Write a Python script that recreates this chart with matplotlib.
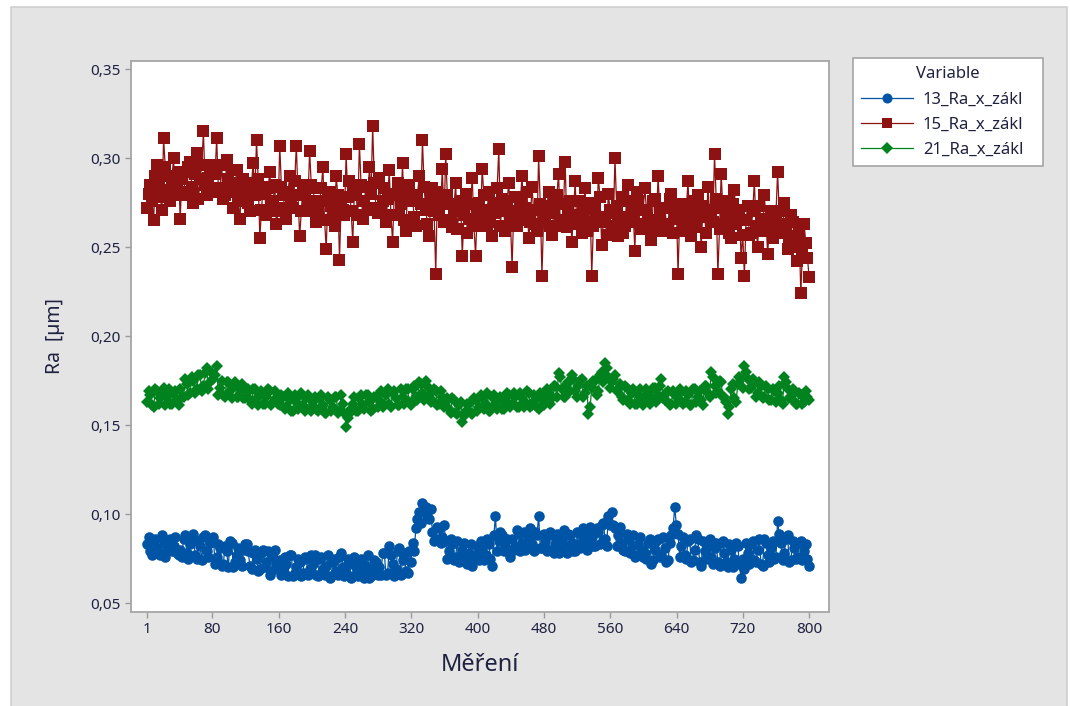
import numpy as np
import matplotlib
matplotlib.use("Agg")
import matplotlib.pyplot as plt
from matplotlib.patches import Rectangle
from matplotlib.ticker import FuncFormatter

plt.rcParams['font.family'] = ['Noto Sans', 'DejaVu Sans']

ra13 = [
    83, 87, 79, 77, 85, 86, 81, 78, 77, 88, 84, 76, 80, 85, 86, 79, 82, 87, 78, 77,
    80, 76, 86, 88, 78, 75, 83, 86, 89, 77, 75, 85, 82, 74, 87, 88, 79, 76, 84, 86,
    87, 72, 76, 83, 81, 71, 72, 82, 79, 70, 85, 84, 70, 73, 77, 81, 74, 71, 80, 83,
    83, 79, 71, 69, 78, 80, 75, 68, 69, 78, 80, 70, 73, 79, 66, 68, 76, 80, 72, 69,
    74, 66, 68, 76, 72, 65, 77, 77, 65, 67, 70, 75, 73, 65, 67, 76, 75, 66, 69, 77,
    72, 77, 66, 65, 75, 76, 69, 66, 71, 77, 64, 65, 73, 75, 68, 66, 76, 78, 70, 65,
    67, 75, 72, 64, 65, 76, 70, 65, 74, 75, 68, 64, 71, 77, 64, 65, 69, 74, 73, 66,
    70, 66, 78, 78, 66, 67, 82, 77, 72, 65, 69, 79, 81, 66, 74, 78, 68, 67, 79, 73,
    84, 79, 92, 97, 101, 95, 106, 102, 104, 99, 97, 103, 90, 85, 86, 93, 92, 84, 87, 94,
    85, 75, 79, 86, 83, 74, 76, 85, 73, 77, 80, 84, 75, 72, 78, 83, 71, 74, 77, 82,
    74, 85, 80, 74, 77, 86, 83, 75, 71, 88, 99, 79, 85, 90, 88, 79, 82, 86, 79, 76,
    86, 80, 82, 91, 89, 79, 84, 90, 80, 81, 87, 92, 83, 79, 90, 88, 99, 81, 81, 89,
    85, 79, 80, 90, 88, 78, 83, 89, 78, 80, 86, 91, 82, 78, 89, 88, 84, 79, 79, 90,
    83, 81, 88, 92, 85, 80, 91, 93, 87, 82, 82, 92, 90, 83, 94, 95, 86, 82, 99, 94,
    101, 94, 92, 82, 88, 93, 84, 80, 79, 89, 86, 78, 82, 88, 76, 77, 83, 87, 80, 76,
    78, 75, 84, 86, 72, 74, 80, 85, 86, 76, 77, 87, 81, 73, 74, 84, 88, 92, 104, 94,
    89, 76, 82, 87, 77, 75, 85, 86, 73, 74, 80, 88, 86, 73, 71, 85, 79, 75, 83, 86,
    76, 72, 81, 84, 73, 71, 84, 85, 78, 73, 70, 83, 80, 70, 75, 84, 82, 72, 64, 75,
    69, 84, 78, 72, 83, 85, 74, 73, 80, 86, 72, 71, 86, 84, 77, 73, 81, 85, 75, 76,
    96, 89, 84, 74, 78, 86, 88, 73, 74, 85, 81, 75, 76, 84, 85, 74, 79, 83, 75, 71,
]
ra15 = [
    272, 280, 285, 276, 265, 290, 296, 284, 278, 271, 311, 295, 290, 282, 276, 288, 300, 279, 283, 292,
    266, 288, 292, 279, 281, 295, 298, 284, 275, 291, 303, 277, 288, 296, 315, 285, 279, 289, 294, 281,
    296, 291, 311, 283, 282, 296, 277, 279, 299, 288, 286, 293, 272, 281, 293, 276, 266, 284, 288, 279,
    281, 275, 270, 286, 297, 279, 310, 288, 255, 271, 284, 280, 268, 283, 292, 274, 276, 285, 263, 270,
    307, 284, 279, 272, 266, 281, 290, 276, 272, 287, 307, 279, 256, 270, 285, 282, 270, 276, 304, 285,
    283, 276, 264, 270, 276, 283, 295, 265, 249, 278, 281, 273, 268, 262, 290, 279, 243, 274, 271, 268,
    302, 278, 287, 270, 253, 282, 279, 268, 308, 285, 266, 276, 284, 271, 295, 280, 318, 286, 272, 269,
    289, 270, 276, 283, 264, 277, 293, 268, 253, 279, 280, 286, 268, 274, 297, 265, 259, 281, 285, 276,
    278, 267, 262, 279, 290, 274, 310, 284, 271, 263, 256, 277, 283, 270, 235, 281, 268, 275, 294, 264,
    302, 279, 274, 265, 261, 272, 286, 260, 270, 276, 245, 268, 280, 258, 266, 274, 289, 262, 245, 271,
    275, 266, 294, 279, 262, 271, 281, 264, 256, 275, 269, 283, 305, 262, 277, 270, 259, 276, 286, 265,
    239, 270, 278, 262, 265, 276, 290, 268, 272, 281, 255, 264, 284, 271, 263, 259, 301, 274, 234, 266,
    268, 273, 281, 262, 257, 269, 274, 279, 291, 265, 262, 274, 298, 261, 270, 276, 253, 268, 287, 263,
    276, 268, 258, 270, 283, 259, 264, 275, 234, 262, 272, 266, 289, 278, 251, 264, 267, 257, 280, 271,
    269, 262, 300, 273, 256, 267, 278, 258, 262, 276, 285, 264, 271, 269, 248, 281, 276, 263, 260, 271,
    283, 271, 265, 260, 254, 276, 277, 265, 290, 269, 259, 272, 272, 263, 261, 277, 280, 258, 268, 274,
    235, 266, 274, 259, 262, 271, 287, 264, 256, 276, 270, 261, 279, 268, 250, 273, 267, 258, 284, 270,
    271, 264, 302, 277, 235, 260, 291, 272, 263, 268, 276, 258, 255, 274, 282, 263, 268, 271, 244, 257,
    234, 265, 273, 257, 258, 270, 287, 262, 250, 273, 266, 259, 279, 266, 246, 261, 270, 255, 259, 268,
    292, 270, 262, 258, 275, 263, 249, 255, 268, 264, 256, 250, 242, 259, 224, 248, 263, 252, 244, 233,
]
ra21 = [
    163, 169, 167, 161, 160, 170, 169, 162, 165, 169, 171, 161, 166, 170, 162, 162, 168, 169, 164, 161,
    170, 166, 166, 176, 173, 167, 168, 177, 175, 168, 170, 178, 178, 169, 172, 179, 182, 170, 174, 179,
    176, 178, 183, 167, 171, 175, 167, 166, 174, 174, 169, 165, 172, 174, 166, 166, 170, 173, 165, 165,
    168, 170, 164, 162, 170, 170, 165, 161, 167, 169, 162, 162, 166, 170, 169, 161, 163, 169, 165, 162,
    161, 167, 166, 159, 160, 168, 164, 158, 158, 167, 163, 159, 167, 168, 161, 158, 165, 167, 159, 158,
    163, 166, 159, 158, 165, 167, 161, 157, 157, 166, 164, 158, 160, 166, 166, 157, 158, 167, 162, 157,
    149, 154, 156, 159, 162, 166, 158, 158, 165, 167, 161, 159, 167, 167, 163, 158, 159, 166, 166, 160,
    164, 169, 160, 161, 167, 170, 162, 160, 168, 169, 165, 161, 161, 170, 166, 162, 170, 170, 163, 161,
    170, 172, 166, 164, 174, 173, 168, 164, 175, 172, 167, 163, 164, 170, 169, 161, 162, 169, 166, 160,
    163, 165, 159, 157, 165, 164, 157, 156, 161, 163, 152, 155, 158, 162, 162, 157, 156, 165, 164, 158,
    160, 167, 165, 159, 162, 168, 158, 158, 166, 167, 161, 159, 164, 166, 159, 159, 163, 168, 167, 160,
    162, 168, 166, 160, 160, 168, 165, 160, 163, 169, 168, 160, 161, 167, 164, 160, 159, 168, 166, 161,
    163, 170, 168, 162, 165, 172, 172, 166, 179, 177, 170, 166, 166, 173, 174, 169, 178, 176, 169, 166,
    172, 175, 176, 166, 168, 172, 156, 160, 171, 175, 175, 167, 169, 178, 180, 174, 185, 182, 177, 171,
    174, 176, 178, 169, 170, 173, 166, 164, 172, 171, 164, 162, 168, 170, 162, 162, 167, 170, 165, 161,
    163, 170, 168, 162, 165, 171, 171, 163, 167, 172, 176, 165, 164, 168, 169, 161, 162, 169, 167, 162,
    165, 170, 169, 162, 163, 169, 167, 161, 161, 170, 170, 163, 166, 169, 164, 161, 172, 172, 168, 166,
    180, 177, 172, 168, 169, 175, 174, 166, 166, 163, 156, 160, 170, 173, 165, 163, 173, 177, 176, 171,
    183, 180, 176, 170, 171, 176, 174, 166, 168, 174, 172, 165, 166, 172, 170, 164, 164, 170, 169, 163,
    168, 172, 164, 162, 177, 174, 170, 165, 165, 170, 168, 162, 162, 168, 167, 162, 163, 169, 166, 164,
]
labels = ["13_Ra_x_zákl", "15_Ra_x_zákl", "21_Ra_x_zákl"]
colors = ["#0054a6", "#8e1212", "#00821e"]
markers = ["o", "s", "D"]
msizes = [7.6, 8.0, 6.4]
xticks = [1, 80, 160, 240, 320, 400, 480, 560, 640, 720, 800]
yticks = [0.05, 0.10, 0.15, 0.20, 0.25, 0.30, 0.35]

txt = "#1e2140"
fig = plt.figure(figsize=(10.70, 7.06), dpi=100, facecolor="white")
fig.patches.append(Rectangle((11 / 1070, -0.01), 1056 / 1070, 699 / 706 + 0.01,
                             transform=fig.transFigure, facecolor="#e4e4e4",
                             edgecolor="#cfcfcf", linewidth=1.2, zorder=-10))

ax = fig.add_axes([131 / 1070, 94 / 706, 698 / 1070, 551 / 706])
ax.set_facecolor("white")

n = len(ra13)
x = np.linspace(1, 800, n)
for vals, lab, c, m, ms in zip([ra13, ra15, ra21], labels, colors, markers, msizes):
    ax.plot(x, np.array(vals) / 1000, color=c, marker=m, markersize=ms,
            linewidth=0.9, markeredgewidth=0, label=lab)

ax.set_xlim(-18.3, 824)
ax.set_ylim(0.045, 0.3545)
ax.set_xticks(xticks)
ax.set_yticks(yticks)
ax.yaxis.set_major_formatter(FuncFormatter(lambda v, p: f"{v:.2f}".replace(".", ",")))
ax.tick_params(colors="#9a9a9a", labelcolor=txt, labelsize=11, length=4, width=1)
for s in ax.spines.values():
    s.set_color("#a5a5a5")
    s.set_linewidth(1.3)

ax.set_xlabel("Měření", fontsize=17, color=txt, labelpad=11)
ax.set_ylabel("Ra  [µm]", fontsize=14, color=txt, labelpad=18)

leg = fig.legend(loc="upper left",
                 bbox_to_anchor=(853 / 1070, 1 - 168 / 706, 190 / 1070, 110 / 706),
                 mode="expand", borderaxespad=0,
                 title="Variable", fontsize=12, title_fontsize=12, markerscale=0.95,
                 handlelength=3.1, handletextpad=0.6, borderpad=0.5,
                 labelspacing=0.55, fancybox=False, framealpha=1)
leg.get_frame().set_edgecolor("#a5a5a5")
leg.get_frame().set_linewidth(1.2)
for t in leg.get_texts():
    t.set_color(txt)
leg.get_title().set_color(txt)

fig.savefig("out.png", dpi=100, facecolor=fig.get_facecolor())
